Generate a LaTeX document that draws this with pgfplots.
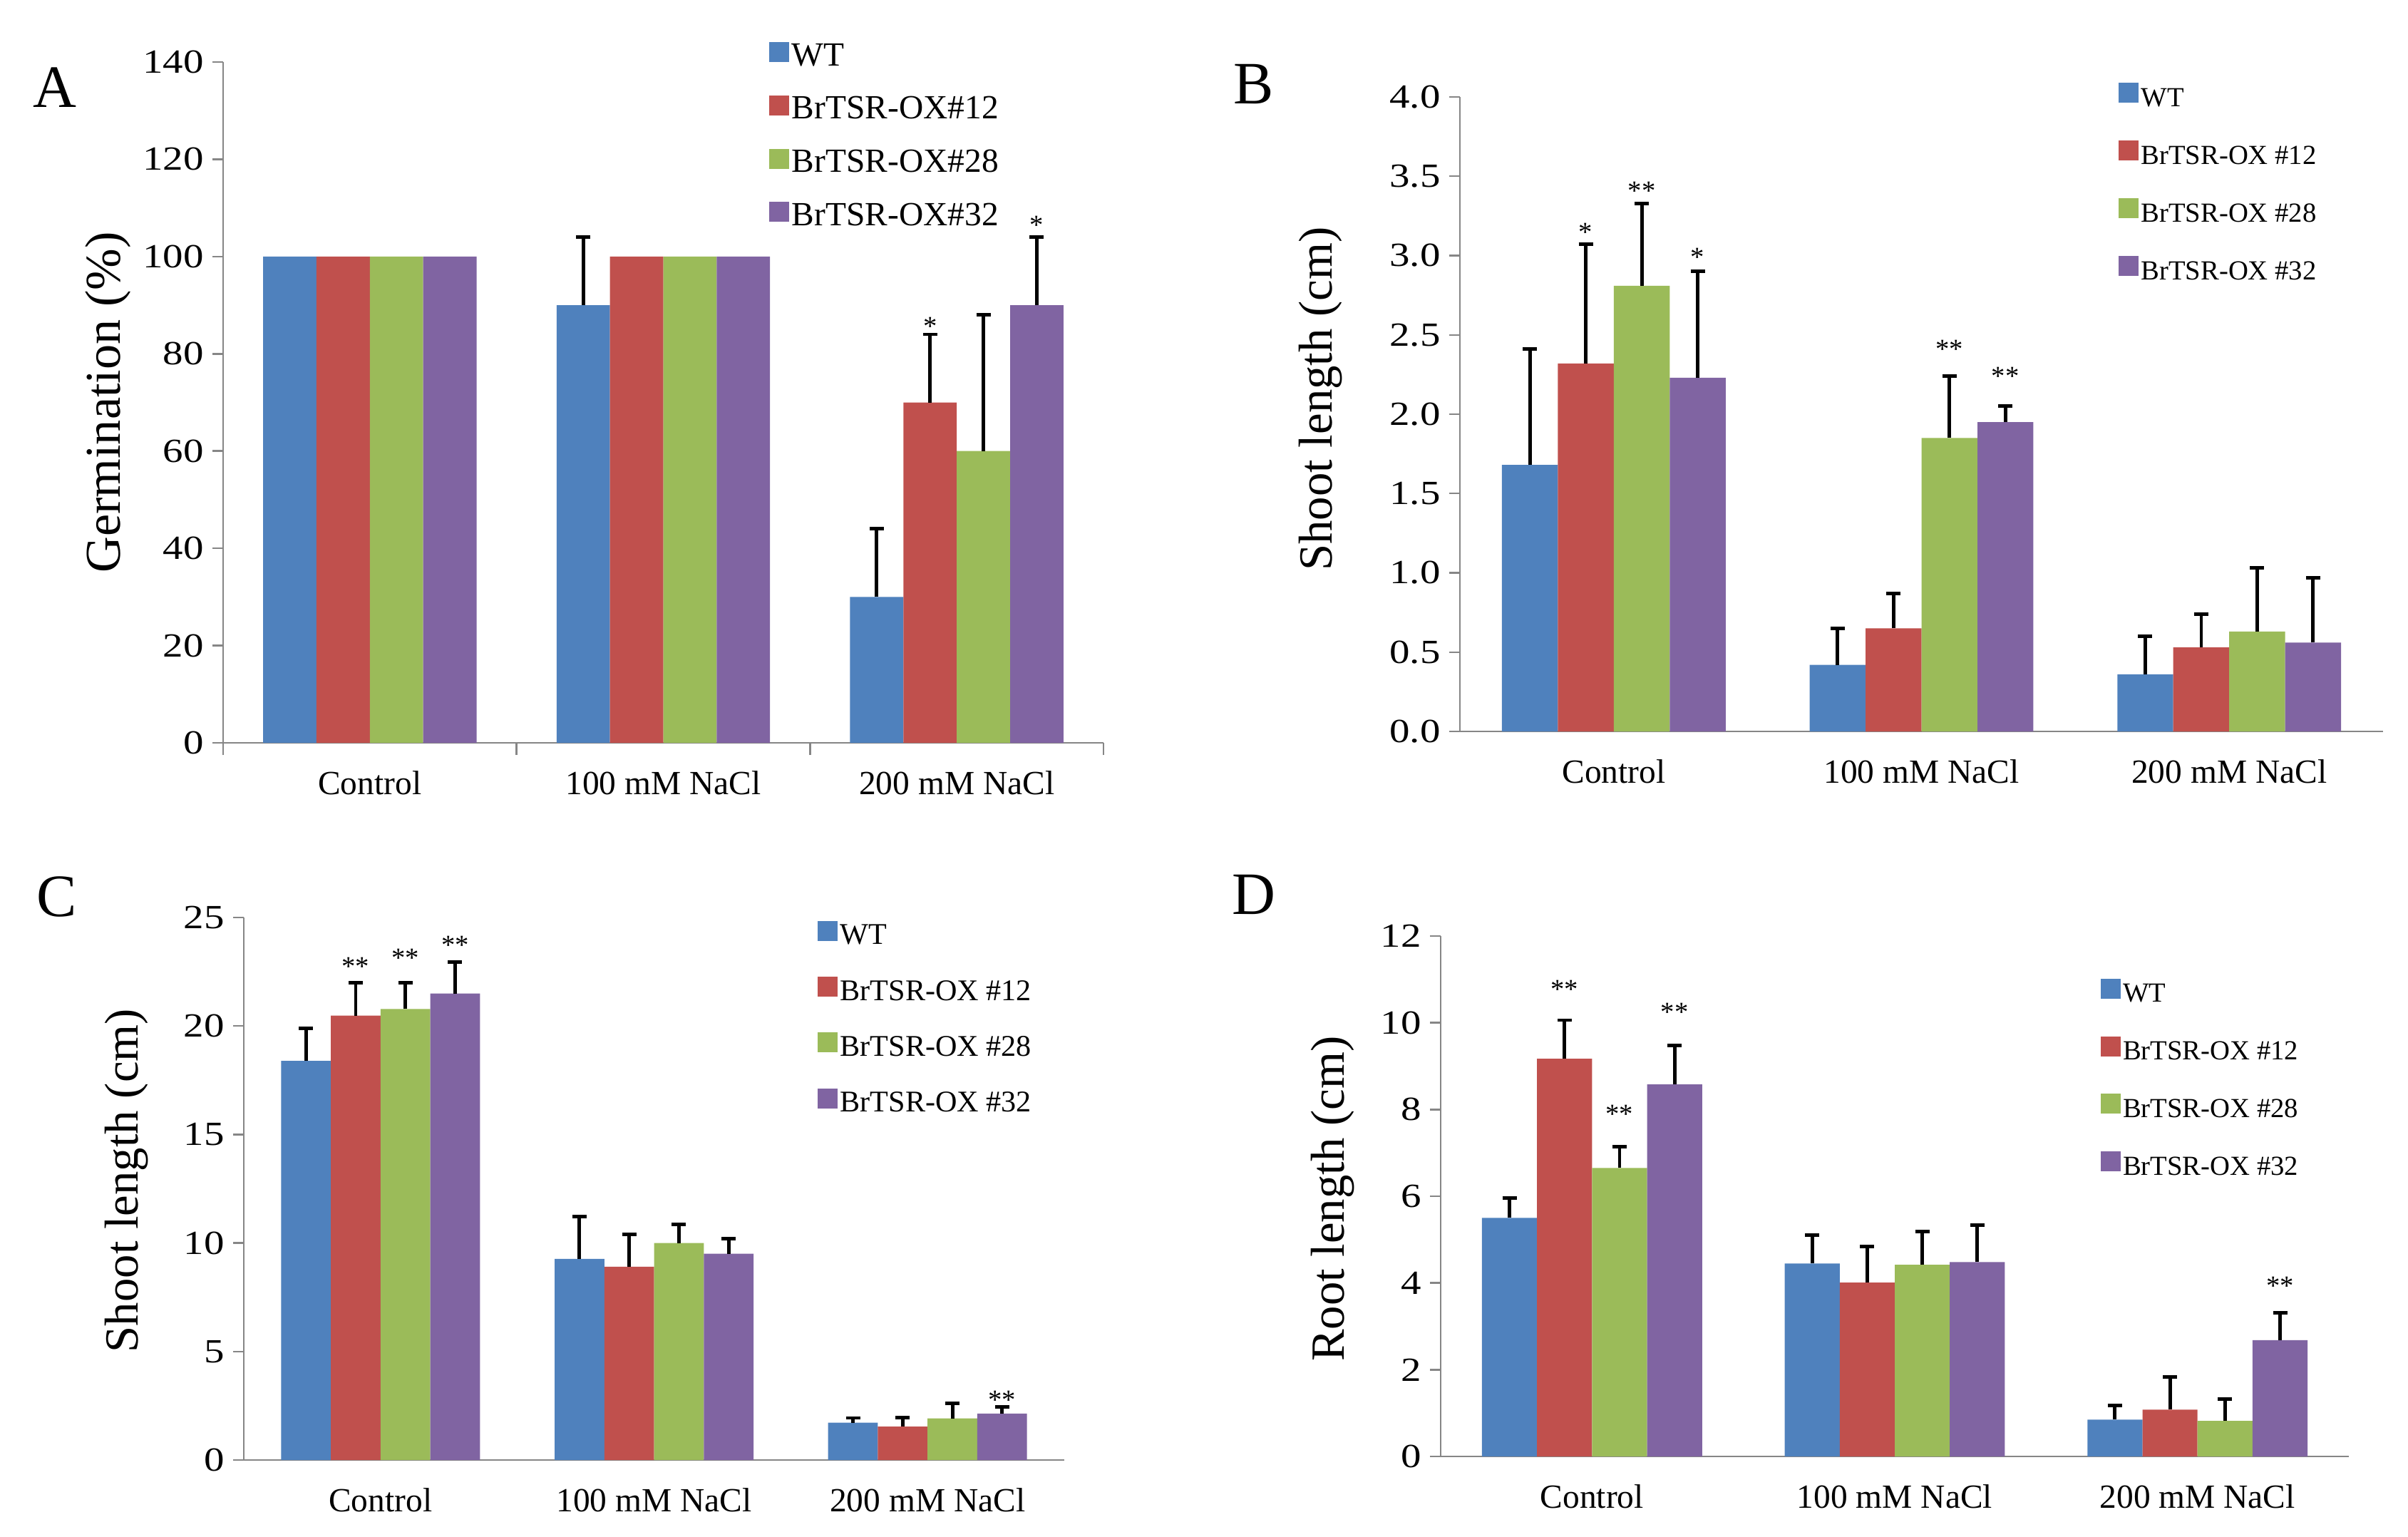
\documentclass[border=0pt]{standalone}
\usepackage{pgfplots}
\pgfplotsset{compat=1.18}
\usepackage{pgfplotstable}
\usepackage{fontspec}
\setmainfont{Liberation Serif}
\newfontfamily\tickfont{Liberation Serif}[FakeStretch=1.2]

\definecolor{cWT}{HTML}{4F81BD}
\definecolor{cA}{HTML}{C0504D}
\definecolor{cB}{HTML}{9BBB59}
\definecolor{cC}{HTML}{8064A2}
\definecolor{axgray}{HTML}{868686}

% mean and SD of WT and the three BrTSR-OX lines
% rows: 0 = Control, 1 = 100 mM NaCl, 2 = 200 mM NaCl
\pgfplotstableread{
x  wt    wte   oa    oae   ob    obe   oc    oce
0  100   0     100   0     100   0     100   0
1  90    14    100   0     100   0     100   0
2  30    14    70    14    60    28    90    14
}\germination

\pgfplotstableread{
x  wt    wte   oa    oae   ob    obe   oc    oce
0  1.68  0.73  2.32  0.75  2.81  0.52  2.23  0.67
1  0.42  0.23  0.65  0.22  1.85  0.39  1.95  0.10
2  0.36  0.24  0.53  0.21  0.63  0.40  0.56  0.41
}\shootB

\pgfplotstableread{
x  wt    wte   oa    oae   ob    obe   oc    oce
0  18.39 1.51  20.48 1.50  20.78 1.20  21.50 1.46
1  9.27  1.96  8.91  1.50  10.00 0.85  9.51  0.68
2  1.72  0.22  1.54  0.42  1.92  0.70  2.14  0.32
}\shootC

\pgfplotstableread{
x  wt    wte   oa    oae   ob    obe   oc    oce
0  5.50  0.46  9.17  0.89  6.65  0.49  8.58  0.90
1  4.45  0.65  4.01  0.83  4.42  0.76  4.48  0.85
2  0.85  0.32  1.08  0.76  0.82  0.50  2.68  0.64
}\rootD

\pgfplotsset{
  panel/.style={
    scale only axis, anchor=south west, clip=false,
    xmin=-0.5, xmax=2.5, ymin=0,
    axis lines*=left,
    axis line style={draw=axgray, line width=0.7pt},
    tick align=outside, major tick length=0.15cm,
    xtick={0,1,2},
    xticklabels={Control, 100 mM NaCl, 200 mM NaCl},
    x tick style={draw=none},
    y tick style={draw=axgray, line width=0.7pt},
    xticklabel style={font=\fontsize{13.5}{15}\selectfont, yshift=-0.12cm},
    yticklabel style={font=\tickfont\fontsize{13.5}{15}\selectfont},
    /pgf/number format/assume math mode=true,
    scaled y ticks=false,
    ylabel style={font=\fontsize{20}{24}\selectfont, anchor=center},
    ybar, bar width=0.1818,
    legend cell align=left,
    legend image code/.code={\fill[##1] (0cm,-0.06cm) rectangle (0.28cm,0.22cm);},
    legend style={draw=none, fill=none, inner sep=0pt, anchor=north west,
      font=\fontsize{11}{13}\selectfont,
      nodes={inner sep=1pt, text height=0.30cm, text depth=0.08cm}},
  },
  sWT/.style={fill=cWT, draw=none, bar shift=-0.2727},
  sA/.style={fill=cA, draw=none, bar shift=-0.0909},
  sB/.style={fill=cB, draw=none, bar shift=0.0909},
  sC/.style={fill=cC, draw=none, bar shift=0.2727},
  errs/.style={forget plot, draw=none, fill=none,
    error bars/y dir=plus, error bars/y explicit,
    error bars/error bar style={draw=black, line width=1.4pt},
    error bars/error mark options={draw=black, line width=1.4pt, mark size=0.1cm, rotate=90}},
  stars/.style={forget plot, draw=none, fill=none,
    point meta=explicit symbolic, nodes near coords,
    every node near coord/.append style={font=\fontsize{11}{12}\selectfont,
      text=black, anchor=center, yshift=-2pt, inner sep=0pt}},
}

\begin{document}
\begin{tikzpicture}
\useasboundingbox (0,0) rectangle (33.78cm,21.55cm);

% ---------- A: germination ----------
\begin{axis}[panel,
  at={(3.13cm,11.13cm)}, width=12.35cm, height=9.55cm,
  ymax=140, ytick={0,20,...,140},
  extra x ticks={-0.5,0.5,1.5,2.5}, extra x tick labels={},
  extra x tick style={x tick style={draw=axgray, line width=0.7pt}, major tick length=0.17cm},
  ylabel={Germination (\%)},
  ylabel style={at={(axis description cs:-0.131,0.5)}},
  legend style={at={(axis description cs:0.62,1.0305)}, row sep=0.297cm,
    font=\fontsize{13.5}{15}\selectfont},
]
\addplot[sWT] table[x=x, y=wt] {\germination};
\addplot[sA]  table[x=x, y=oa] {\germination};
\addplot[sB]  table[x=x, y=ob] {\germination};
\addplot[sC]  table[x=x, y=oc] {\germination};
\legend{WT, BrTSR-OX\#12, BrTSR-OX\#28, BrTSR-OX\#32}
\addplot[errs, bar shift=-0.2727, skip coords between index={0}{1}]
  table[x=x, y=wt, y error=wte] {\germination};
\addplot[errs, bar shift=-0.0909, skip coords between index={0}{2}]
  table[x=x, y=oa, y error=oae] {\germination};
\addplot[errs, bar shift=0.0909, skip coords between index={0}{2}]
  table[x=x, y=ob, y error=obe] {\germination};
\addplot[errs, bar shift=0.2727, skip coords between index={0}{2}]
  table[x=x, y=oc, y error=oce] {\germination};
\addplot[stars, bar shift=-0.0909] coordinates {(2,86.7)[*]};
\addplot[stars, bar shift=0.2727] coordinates {(2,107.5)[*]};
\end{axis}

% ---------- B: shoot length ----------
\begin{axis}[panel,
  at={(20.48cm,11.29cm)}, width=12.95cm, height=8.90cm,
  ymax=4, ytick={0,0.5,...,4},
  yticklabel style={/pgf/number format/.cd, fixed, fixed zerofill, precision=1},
  ylabel={Shoot length (cm)},
  ylabel style={at={(axis description cs:-0.151,0.524)}, font=\fontsize{19}{23}\selectfont},
  legend style={at={(axis description cs:0.713,1.0236)}, row sep=0.36cm},
]
\addplot[sWT] table[x=x, y=wt] {\shootB};
\addplot[sA]  table[x=x, y=oa] {\shootB};
\addplot[sB]  table[x=x, y=ob] {\shootB};
\addplot[sC]  table[x=x, y=oc] {\shootB};
\legend{WT, BrTSR-OX \#12, BrTSR-OX \#28, BrTSR-OX \#32}
\addplot[errs, bar shift=-0.2727] table[x=x, y=wt, y error=wte] {\shootB};
\addplot[errs, bar shift=-0.0909] table[x=x, y=oa, y error=oae] {\shootB};
\addplot[errs, bar shift=0.0909]  table[x=x, y=ob, y error=obe] {\shootB};
\addplot[errs, bar shift=0.2727]  table[x=x, y=oc, y error=oce] {\shootB};
\addplot[stars, bar shift=-0.0909] coordinates {(0,3.18)[*]};
\addplot[stars, bar shift=0.0909]  coordinates {(0,3.44)[**] (1,2.44)[**]};
\addplot[stars, bar shift=0.2727]  coordinates {(0,3.02)[*] (1,2.27)[**]};
\end{axis}

% ---------- C: shoot length ----------
\begin{axis}[panel,
  at={(3.42cm,1.07cm)}, width=11.51cm, height=7.61cm,
  ymax=25, ytick={0,5,...,25},
  ylabel={Shoot length (cm)},
  ylabel style={at={(axis description cs:-0.143,0.515)}, font=\fontsize{19}{23}\selectfont},
  legend style={at={(axis description cs:0.699,0.9953)}, row sep=0.333cm,
    font=\fontsize{12}{14}\selectfont},
]
\addplot[sWT] table[x=x, y=wt] {\shootC};
\addplot[sA]  table[x=x, y=oa] {\shootC};
\addplot[sB]  table[x=x, y=ob] {\shootC};
\addplot[sC]  table[x=x, y=oc] {\shootC};
\legend{WT, BrTSR-OX \#12, BrTSR-OX \#28, BrTSR-OX \#32}
\addplot[errs, bar shift=-0.2727] table[x=x, y=wt, y error=wte] {\shootC};
\addplot[errs, bar shift=-0.0909] table[x=x, y=oa, y error=oae] {\shootC};
\addplot[errs, bar shift=0.0909]  table[x=x, y=ob, y error=obe] {\shootC};
\addplot[errs, bar shift=0.2727]  table[x=x, y=oc, y error=oce] {\shootC};
\addplot[stars, bar shift=-0.0909] coordinates {(0,22.96)[**]};
\addplot[stars, bar shift=0.0909]  coordinates {(0,23.36)[**]};
\addplot[stars, bar shift=0.2727]  coordinates {(0,23.96)[**] (2,2.98)[**]};
\end{axis}

% ---------- D: root length ----------
\begin{axis}[panel,
  at={(20.21cm,1.12cm)}, width=12.74cm, height=7.30cm,
  ymax=12, ytick={0,2,...,12},
  ylabel={Root length (cm)},
  ylabel style={at={(axis description cs:-0.119,0.495)}, font=\fontsize{19}{23}\selectfont},
  legend style={at={(axis description cs:0.726,0.920)}, row sep=0.359cm},
]
\addplot[sWT] table[x=x, y=wt] {\rootD};
\addplot[sA]  table[x=x, y=oa] {\rootD};
\addplot[sB]  table[x=x, y=ob] {\rootD};
\addplot[sC]  table[x=x, y=oc] {\rootD};
\legend{WT, BrTSR-OX \#12, BrTSR-OX \#28, BrTSR-OX \#32}
\addplot[errs, bar shift=-0.2727] table[x=x, y=wt, y error=wte] {\rootD};
\addplot[errs, bar shift=-0.0909] table[x=x, y=oa, y error=oae] {\rootD};
\addplot[errs, bar shift=0.0909]  table[x=x, y=ob, y error=obe] {\rootD};
\addplot[errs, bar shift=0.2727]  table[x=x, y=oc, y error=oce] {\rootD};
\addplot[stars, bar shift=-0.0909] coordinates {(0,10.89)[**]};
\addplot[stars, bar shift=0.0909]  coordinates {(0,8.01)[**]};
\addplot[stars, bar shift=0.2727]  coordinates {(0,10.36)[**] (2,4.05)[**]};
\end{axis}

% panel letters
\node[font=\fontsize{24}{28}\selectfont] at (0.77cm,20.32cm) {A};
\node[font=\fontsize{24}{28}\selectfont] at (17.59cm,20.37cm) {B};
\node[font=\fontsize{24}{28}\selectfont] at (0.80cm,8.97cm) {C};
\node[font=\fontsize{24}{28}\selectfont] at (17.59cm,9.00cm) {D};
\end{tikzpicture}
\end{document}
